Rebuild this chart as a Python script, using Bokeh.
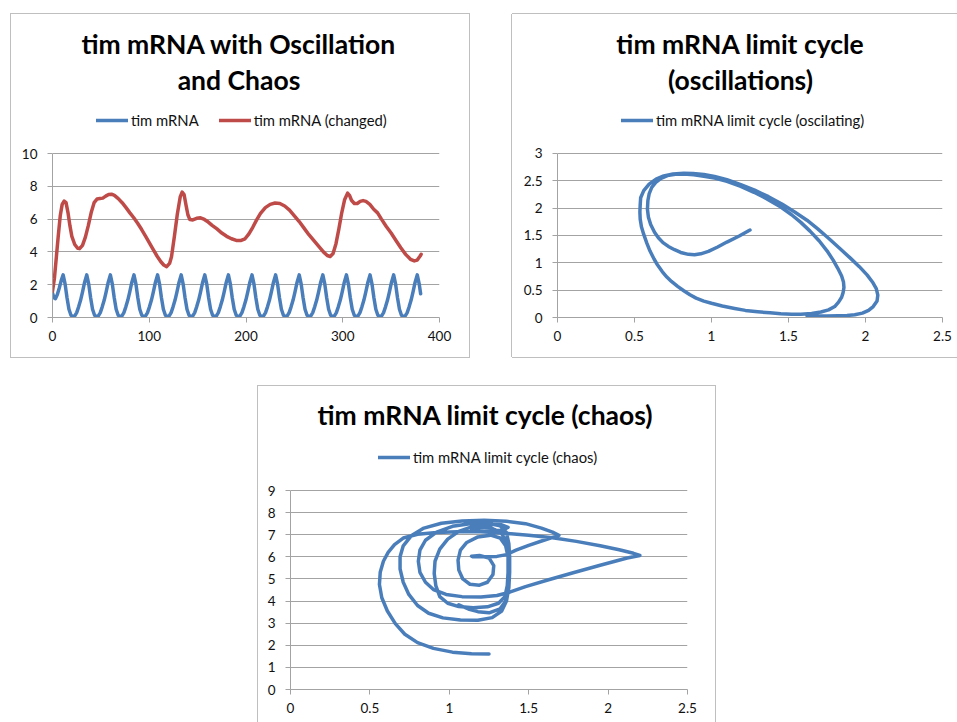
from bokeh.plotting import figure
from bokeh.models import (Range1d, FixedTicker, NumeralTickFormatter, Legend,
                          LegendItem, Label, Spacer)
from bokeh.layouts import column, row
from bokeh.embed import file_html
from bokeh.resources import INLINE

# ---------------- data ----------------
# Chart 1: tim mRNA over time
blue_t = [
    0, 1.5, 3, 5, 7, 9,
    11, 13, 15, 17, 19, 21, 23, 25, 27, 29, 31, 33,
    35.4, 37.4, 39.4, 41.4, 43.4, 45.4, 47.4, 49.4, 51.4, 53.4, 55.4, 57.4,
    59.8, 61.8, 63.8, 65.8, 67.8, 69.8, 71.8, 73.8, 75.8, 77.8, 79.8, 81.8,
    84.2, 86.2, 88.2, 90.2, 92.2, 94.2, 96.2, 98.2, 100.2, 102.2, 104.2, 106.2,
    108.6, 110.6, 112.6, 114.6, 116.6, 118.6, 120.6, 122.6, 124.6, 126.6, 128.6, 130.6,
    133, 135, 137, 139, 141, 143, 145, 147, 149, 151, 153, 155,
    157.4, 159.4, 161.4, 163.4, 165.4, 167.4, 169.4, 171.4, 173.4, 175.4, 177.4, 179.4,
    181.8, 183.8, 185.8, 187.8, 189.8, 191.8, 193.8, 195.8, 197.8, 199.8, 201.8, 203.8,
    206.2, 208.2, 210.2, 212.2, 214.2, 216.2, 218.2, 220.2, 222.2, 224.2, 226.2, 228.2,
    230.6, 232.6, 234.6, 236.6, 238.6, 240.6, 242.6, 244.6, 246.6, 248.6, 250.6, 252.6,
    255, 257, 259, 261, 263, 265, 267, 269, 271, 273, 275, 277,
    279.4, 281.4, 283.4, 285.4, 287.4, 289.4, 291.4, 293.4, 295.4, 297.4, 299.4, 301.4,
    303.8, 305.8, 307.8, 309.8, 311.8, 313.8, 315.8, 317.8, 319.8, 321.8, 323.8, 325.8,
    328.2, 330.2, 332.2, 334.2, 336.2, 338.2, 340.2, 342.2, 344.2, 346.2, 348.2, 350.2,
    352.6, 354.6, 356.6, 358.6, 360.6, 362.6, 364.6, 366.6, 368.6, 370.6, 372.6, 374.6,
    377, 379, 380.5,
]
blue_y = [
    1.5, 1.2, 1.15, 1.4, 1.8, 2.25,
    2.6, 2.05, 1.2, 0.5, 0.15, 0.05, 0.1, 0.3, 0.65, 1.05, 1.55, 2.1,
    2.6, 2.05, 1.2, 0.5, 0.15, 0.05, 0.1, 0.3, 0.65, 1.05, 1.55, 2.1,
    2.6, 2.05, 1.2, 0.5, 0.15, 0.05, 0.1, 0.3, 0.65, 1.05, 1.55, 2.1,
    2.6, 2.05, 1.2, 0.5, 0.15, 0.05, 0.1, 0.3, 0.65, 1.05, 1.55, 2.1,
    2.6, 2.05, 1.2, 0.5, 0.15, 0.05, 0.1, 0.3, 0.65, 1.05, 1.55, 2.1,
    2.6, 2.05, 1.2, 0.5, 0.15, 0.05, 0.1, 0.3, 0.65, 1.05, 1.55, 2.1,
    2.6, 2.05, 1.2, 0.5, 0.15, 0.05, 0.1, 0.3, 0.65, 1.05, 1.55, 2.1,
    2.6, 2.05, 1.2, 0.5, 0.15, 0.05, 0.1, 0.3, 0.65, 1.05, 1.55, 2.1,
    2.6, 2.05, 1.2, 0.5, 0.15, 0.05, 0.1, 0.3, 0.65, 1.05, 1.55, 2.1,
    2.6, 2.05, 1.2, 0.5, 0.15, 0.05, 0.1, 0.3, 0.65, 1.05, 1.55, 2.1,
    2.6, 2.05, 1.2, 0.5, 0.15, 0.05, 0.1, 0.3, 0.65, 1.05, 1.55, 2.1,
    2.6, 2.05, 1.2, 0.5, 0.15, 0.05, 0.1, 0.3, 0.65, 1.05, 1.55, 2.1,
    2.6, 2.05, 1.2, 0.5, 0.15, 0.05, 0.1, 0.3, 0.65, 1.05, 1.55, 2.1,
    2.6, 2.05, 1.2, 0.5, 0.15, 0.05, 0.1, 0.3, 0.65, 1.05, 1.55, 2.1,
    2.6, 2.05, 1.2, 0.5, 0.15, 0.05, 0.1, 0.3, 0.65, 1.05, 1.55, 2.1,
    2.6, 2.05, 1.45,
]

red_t = [
    0, 2, 4, 6, 8, 10, 12, 14, 16, 18, 20, 23, 26, 28, 31, 34, 37, 40, 43, 46,
    49, 52, 55, 58, 61, 64, 68, 72, 76, 80, 84, 88, 92, 96, 100, 104, 108, 112,
    115, 118, 121, 123, 126, 129, 132, 134, 136, 138, 140, 142, 145, 149, 153,
    157, 161, 165, 170, 175, 180, 185, 190, 195, 199, 203, 207, 211, 215, 220,
    225, 230, 235, 240, 245, 250, 255, 260, 265, 270, 275, 280, 284, 287, 290,
    293, 296, 299, 302, 305, 307, 309, 312, 315, 318, 321, 324, 328, 332, 336,
    340, 345, 350, 355, 360, 365, 370, 374, 377, 380, 381,
]
red_y = [
    1.6, 2.4, 3.7, 5.0, 6.2, 6.9, 7.1, 7.0, 6.4, 5.6, 4.95, 4.45, 4.22, 4.2, 4.4,
    4.9, 5.6, 6.4, 7.0, 7.22, 7.25, 7.28, 7.4, 7.5, 7.52, 7.45, 7.25, 7.0, 6.7,
    6.38, 6.08, 5.75, 5.38, 4.98, 4.57, 4.15, 3.75, 3.4, 3.2, 3.1, 3.3, 3.7,
    4.95, 6.3, 7.35, 7.65, 7.5, 6.85, 6.25, 5.97, 5.95, 6.05, 6.08, 5.98, 5.82,
    5.62, 5.4, 5.15, 4.95, 4.8, 4.7, 4.7, 4.8, 5.1, 5.5, 5.95, 6.35, 6.7, 6.9,
    6.98, 6.95, 6.8, 6.55, 6.2, 5.85, 5.45, 5.05, 4.7, 4.35, 4.0, 3.78, 3.72,
    3.9, 4.5, 5.4, 6.4, 7.2, 7.58, 7.45, 7.15, 6.95, 6.95, 7.08, 7.13, 7.08,
    6.9, 6.6, 6.38, 6.0, 5.55, 5.15, 4.7, 4.25, 3.85, 3.55, 3.45, 3.5, 3.75, 3.85,
]

# Chart 2: limit cycle (oscillating)
osc_x = [
    1.25, 1.18, 1.10, 1.04, 0.98, 0.93, 0.89, 0.85, 0.80, 0.76, 0.72, 0.685,
    0.655, 0.63, 0.605, 0.59, 0.584, 0.587, 0.595, 0.612, 0.638, 0.672,
    0.714, 0.765, 0.82, 0.885, 0.95, 1.02, 1.10, 1.19, 1.276, 1.36, 1.45, 1.52,
    1.58, 1.64, 1.70, 1.75, 1.79, 1.82, 1.845, 1.857, 1.86, 1.855, 1.845,
    1.825, 1.80, 1.76, 1.71, 1.65, 1.58, 1.52, 1.45, 1.38, 1.30, 1.22, 1.15,
    1.07, 1.00, 0.95, 0.90, 0.86, 0.82, 0.78, 0.74, 0.71, 0.68, 0.65, 0.627,
    0.60, 0.58, 0.56, 0.545, 0.537, 0.535, 0.537, 0.54, 0.56, 0.595, 0.64,
    0.69, 0.75, 0.82, 0.88, 0.95, 1.02, 1.10, 1.19, 1.28, 1.37, 1.46, 1.54,
    1.62, 1.69, 1.76, 1.83, 1.90, 1.96, 2.01, 2.045, 2.07, 2.08, 2.075, 2.05,
    2.02, 1.98, 1.93, 1.88, 1.82, 1.75, 1.68, 1.62,
]
osc_y = [
    1.60, 1.49, 1.38, 1.29, 1.21, 1.165, 1.148, 1.155, 1.19, 1.24, 1.30, 1.37,
    1.46, 1.56, 1.70, 1.84, 1.98, 2.14, 2.26, 2.38, 2.47, 2.545,
    2.595, 2.62, 2.625, 2.61, 2.585, 2.55, 2.49, 2.40, 2.29, 2.17, 2.02, 1.88,
    1.74, 1.58, 1.40, 1.22, 1.05, 0.90, 0.76, 0.65, 0.55, 0.46, 0.37,
    0.28, 0.20, 0.14, 0.10, 0.075, 0.06, 0.06, 0.07, 0.085, 0.105, 0.13, 0.165,
    0.21, 0.26, 0.30, 0.355, 0.415, 0.49, 0.57, 0.66, 0.74, 0.84, 0.96, 1.07,
    1.22, 1.36, 1.52, 1.66, 1.80, 1.93, 2.06, 2.19, 2.32, 2.44, 2.53,
    2.59, 2.625, 2.64, 2.635, 2.615, 2.58, 2.52, 2.43, 2.33, 2.21, 2.07, 1.93,
    1.78, 1.62, 1.45, 1.27, 1.09, 0.93, 0.78, 0.65, 0.53, 0.41, 0.30, 0.20,
    0.13, 0.08, 0.05, 0.035, 0.03, 0.028, 0.03, 0.035,
]

# Chart 3: limit cycle (chaos)
chaos_x = [
    1.25, 1.14, 1.02, 0.90, 0.80, 0.72, 0.66, 0.61, 0.575, 0.56, 0.565, 0.585,
    0.615, 0.655, 0.71, 0.80, 0.92, 1.05, 1.20, 1.35, 1.50, 1.65, 1.80, 1.95,
    2.07, 2.16, 2.20, 2.12, 1.95, 1.78, 1.62, 1.48, 1.38, 1.30, 1.20,
    1.08, 0.98, 0.90, 0.85, 0.815, 0.805, 0.815, 0.85, 0.92, 1.02, 1.13, 1.24,
    1.32, 1.36, 1.375, 1.38, 1.38, 1.375, 1.36, 1.33, 1.27, 1.18, 1.07, 0.96,
    0.87,
    0.80, 0.745, 0.71, 0.69, 0.69, 0.71, 0.76, 0.84, 0.95, 1.08, 1.22, 1.36,
    1.48, 1.58, 1.65, 1.69, 1.60, 1.50, 1.42, 1.36, 1.30, 1.22, 1.15, 1.14,
    1.19, 1.25, 1.28, 1.275, 1.24, 1.19, 1.13, 1.085, 1.06, 1.055, 1.07, 1.11,
    1.18, 1.26, 1.32, 1.355, 1.37, 1.37, 1.365, 1.35, 1.31, 1.24, 1.15, 1.06,
    0.99,
    0.94, 0.915, 0.905, 0.91, 0.94, 0.99, 1.06, 1.15, 1.25, 1.33, 1.37, 1.33,
    1.22, 1.14, 1.17, 1.26, 1.33, 1.365, 1.375, 1.375, 1.37, 1.355, 1.32, 1.25,
    1.18, 1.12, 1.06,
]
chaos_y = [
    1.61, 1.62, 1.69, 1.86, 2.12, 2.50, 2.98, 3.55, 4.15, 4.75, 5.30, 5.80,
    6.20, 6.55, 6.85, 7.02, 7.10, 7.14, 7.13, 7.07, 6.98, 6.86, 6.70, 6.50,
    6.32, 6.16, 6.06, 5.95, 5.62, 5.28, 4.95, 4.65, 4.40, 4.25, 4.18,
    4.20, 4.30, 4.52, 4.85, 5.30, 5.80, 6.30, 6.75, 7.12, 7.38, 7.50, 7.52,
    7.40, 7.10, 6.60, 6.00, 5.30, 4.60, 4.00, 3.55, 3.25, 3.13, 3.14, 3.24,
    3.45,
    3.80, 4.30, 4.85, 5.45, 6.00, 6.50, 6.95, 7.30, 7.52, 7.62, 7.65, 7.61,
    7.50, 7.30, 7.12, 6.97, 6.76, 6.52, 6.30, 6.10, 6.02, 6.00, 6.00, 6.03,
    6.06, 5.95, 5.60, 5.20, 4.85, 4.72, 4.76, 5.00, 5.40, 5.85, 6.30, 6.65,
    6.90, 6.98, 6.85, 6.50, 6.00, 5.30, 4.70, 4.20, 3.90, 3.74, 3.70, 3.75,
    3.90,
    4.20, 4.70, 5.25, 5.80, 6.35, 6.80, 7.15, 7.38, 7.47, 7.45, 7.33, 7.20,
    7.16, 7.22, 7.35, 7.32, 7.05, 6.60, 6.00, 5.30, 4.60, 4.00, 3.65, 3.47,
    3.52, 3.64, 3.83,
]

# ---------------- styling ----------------
FONT = "Lato"
BLUE = "#4A7EBB"
RED = "#BE4B48"
GRID = "#a3a3a3"
TXT = "#111111"
TICK_FS = "13.5px"
TITLE_FS = "26.5px"
LEG_FS = "14.8px"
LW = 3.5


def base_fig(width, height, mbl, mbr, mbb, frame_h, xr, ymax, px_per_unit,
             xticks, yticks, fmt_dec, box):
    # the frame also holds the header area; the y axis is bounded to the data range
    y_end = frame_h / px_per_unit
    p = figure(width=width, height=height, x_range=Range1d(*xr), y_range=Range1d(0, y_end),
               output_backend="svg", toolbar_location=None, title=None,
               min_border_left=mbl, min_border_right=mbr,
               min_border_top=0, min_border_bottom=mbb,
               styles={"box-shadow": box})
    p.outline_line_color = None
    p.background_fill_color = "white"
    p.border_fill_color = "white"
    p.xgrid.visible = False
    p.ygrid.grid_line_color = GRID
    p.ygrid.grid_line_width = 1
    p.xaxis.ticker = FixedTicker(ticks=xticks)
    p.yaxis.ticker = FixedTicker(ticks=yticks)
    p.ygrid.ticker = FixedTicker(ticks=yticks)
    p.yaxis.bounds = (0, ymax)
    if fmt_dec:
        p.xaxis.formatter = NumeralTickFormatter(format="0.[0]")
        p.yaxis.formatter = NumeralTickFormatter(format="0.[0]")
    for ax in (p.xaxis[0], p.yaxis[0]):
        ax.axis_line_color = GRID
        ax.axis_line_width = 1
        ax.major_tick_line_color = GRID
        ax.major_tick_out = 5
        ax.major_tick_in = 0
        ax.minor_tick_line_color = None
        ax.major_label_text_font = FONT
        ax.major_label_text_font_size = TICK_FS
        ax.major_label_text_color = TXT
    p.yaxis.major_label_standoff = 10
    p.xaxis.major_label_standoff = 8
    return p


def add_header(p, items, leg_loc, title_x, lines):
    for text, y in lines:
        p.add_layout(Label(x=title_x, y=y, x_units="screen", y_units="screen", text=text,
                           text_align="center", text_baseline="middle",
                           text_font=FONT, text_font_style="bold",
                           text_font_size=TITLE_FS, text_color="black"))
    lg = Legend(items=items, location=leg_loc, orientation="horizontal",
                border_line_color=None, background_fill_alpha=0,
                padding=0, margin=0, spacing=20, glyph_width=32, glyph_height=16,
                label_height=16, label_standoff=3,
                label_text_font=FONT, label_text_font_size=LEG_FS,
                label_text_color=TXT)
    p.add_layout(lg)


RING = "0 0 0 1px #bfbfbf"
RING_NO_RIGHT = "-1px 0 0 0 #bfbfbf, 0 -1px 0 0 #bfbfbf, 0 1px 0 0 #bfbfbf"

# Chart 1  (page box x 11..469, y 14..357; frame x 52..439, y 14..317)
p1 = base_fig(458, 343, 41, 30, 40, 303, (0, 400), 10, 16.4,
              [0, 100, 200, 300, 400], [0, 2, 4, 6, 8, 10], False, RING)
r_b = p1.line(blue_t, blue_y, line_color=BLUE, line_width=LW, line_join="round", line_cap="round")
r_r = p1.line(red_t, red_y, line_color=RED, line_width=LW, line_join="round", line_cap="round")
add_header(p1, [LegendItem(label="tim mRNA", renderers=[r_b]),
                LegendItem(label="tim mRNA (changed)", renderers=[r_r])], (44, 188),
           186.5, [("tim mRNA with Oscillation", 274), ("and Chaos", 238)])

# Chart 2  (page box x 512..957; frame x 557..942)
p2 = base_fig(445, 343, 45, 15, 40, 303, (0, 2.5), 3, 54.667,
              [0, 0.5, 1, 1.5, 2, 2.5], [0, 0.5, 1, 1.5, 2, 2.5, 3], True, RING_NO_RIGHT)
r_o = p2.line(osc_x, osc_y, line_color=BLUE, line_width=LW, line_join="round", line_cap="round")
add_header(p2, [LegendItem(label="tim mRNA limit cycle (oscilating)", renderers=[r_o])], (64, 188),
           183, [("tim mRNA limit cycle", 274), ("(oscillations)", 238)])

# Chart 3  (page box x 266..723, y 386..722; frame x 298..695, y 386..689)
p3 = base_fig(457, 336, 32, 28, 33, 303, (0, 2.5), 9, 22.11,
              [0, 0.5, 1, 1.5, 2, 2.5], list(range(10)), True, RING)
p3.yaxis.formatter = NumeralTickFormatter(format="0")
r_c = p3.line(chaos_x, chaos_y, line_color=BLUE, line_width=LW, line_join="round", line_cap="round")
add_header(p3, [LegendItem(label="tim mRNA limit cycle (chaos)", renderers=[r_c])], (88, 223),
           195, [("tim mRNA limit cycle (chaos)", 275)])

layout = column(
    Spacer(width=10, height=14),
    row(Spacer(width=11, height=10), p1, Spacer(width=43, height=10), p2),
    Spacer(width=10, height=29),
    row(Spacer(width=258, height=10), p3),
)

open("out.html", "w").write(file_html(layout, INLINE))
